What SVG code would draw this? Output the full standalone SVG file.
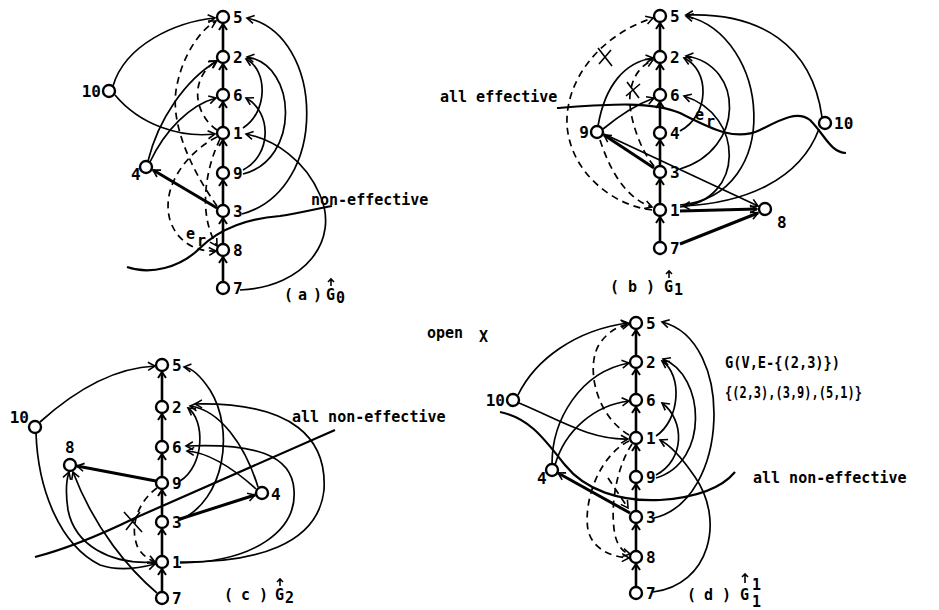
<svg xmlns="http://www.w3.org/2000/svg" width="939" height="610" viewBox="0 0 939 610">
<defs>
<marker id="ar" viewBox="-9 -6 11 12" refX="0" refY="0" markerWidth="11" markerHeight="12" markerUnits="userSpaceOnUse" orient="auto"><path d="M-7,-4 L0,0 L-7,4" fill="none" stroke="#000" stroke-width="1.6"/></marker>
<marker id="sp" viewBox="-9 -6 11 12" refX="0" refY="0" markerWidth="11" markerHeight="12" markerUnits="userSpaceOnUse" orient="auto"><path d="M-6,-4 L0,0 L-6,4" fill="none" stroke="#000" stroke-width="2"/></marker>
</defs>
<style>
.n{fill:#fff;stroke:#000;stroke-width:2.4}
.t{font-family:"DejaVu Sans Mono","Liberation Mono",monospace;font-weight:bold;font-size:16px;fill:#000}
.s{font-family:"DejaVu Sans Mono","Liberation Mono",monospace;font-weight:bold;font-size:15px;fill:#000}
.e{fill:none;stroke:#000;stroke-width:1.7;marker-end:url(#ar)}
.k{fill:none;stroke:#000;stroke-width:3;marker-end:url(#ar)}
.v{fill:none;stroke:#000;stroke-width:2.6;marker-end:url(#sp)}
.d{fill:none;stroke:#000;stroke-width:1.7;stroke-dasharray:7 5;marker-end:url(#ar)}
.c{fill:none;stroke:#000;stroke-width:2.2}
.x{fill:none;stroke:#000;stroke-width:1.6}
</style>
<rect width="939" height="610" fill="#fff"/>
<g id="connectors">
<!-- panel a -->
<path class="v" d="M223,282 L223,257"/>
<path class="v" d="M223,244 L223,218"/>
<path class="v" d="M223,205 L223,180"/>
<path class="v" d="M223,167 L223,140"/>
<path class="v" d="M223,127 L223,102"/>
<path class="v" d="M223,89 L223,64"/>
<path class="v" d="M223,51 L223,24"/>
<path class="e" d="M113,86 C125,45 175,22 215,18"/>
<path class="e" d="M115,95 C140,125 180,138 215,134"/>
<path class="e" d="M148,161 C158,120 185,80 217,61"/>
<path class="e" d="M150,162 C165,130 190,105 216,98"/>
<path class="k" d="M217,208 L153,170"/>
<path class="e" d="M243,128 C268,112 268,70 246,59"/>
<path class="e" d="M243,170 C272,155 272,112 246,98"/>
<path class="e" d="M243,174 C300,160 298,65 247,57"/>
<path class="e" d="M242,214 C330,190 325,35 247,18"/>
<path class="e" d="M240,290 C305,287 340,240 320,195 C305,160 275,140 246,134"/>
<path class="d" d="M217,206 C195,175 168,125 177,85 C183,55 200,30 216,21"/>
<path class="d" d="M217,130 C195,115 188,80 216,61"/>
<path class="d" d="M217,137 C190,150 160,185 170,220 C178,245 200,252 216,251"/>
<path class="d" d="M220,139 C205,170 198,215 217,246"/>
<path class="c" d="M127,267 C150,275 180,268 200,248 C220,228 250,218 280,216 C300,213 320,208 332,206"/>
<!-- panel b -->
<path class="v" d="M660,242 L660,217"/>
<path class="v" d="M660,204 L660,179"/>
<path class="v" d="M660,166 L660,140"/>
<path class="v" d="M660,127 L660,102"/>
<path class="v" d="M660,89 L660,64"/>
<path class="v" d="M660,51 L660,23"/>
<path class="e" d="M822,117 C812,45 760,12 686,15"/>
<path class="e" d="M819,129 C800,180 745,203 683,206"/>
<path class="e" d="M598,126 C605,85 625,62 653,58"/>
<path class="e" d="M603,129 C620,115 635,105 654,98"/>
<path class="k" d="M654,168 L604,135"/>
<path class="e" d="M604,134 L758,206"/>
<path class="k" d="M680,211 L757,209"/>
<path class="k" d="M680,244 L758,213"/>
<path class="e" d="M680,131 C710,115 710,70 684,58"/>
<path class="e" d="M680,169 C745,150 745,65 686,56"/>
<path class="e" d="M680,207 C745,200 745,115 684,96"/>
<path class="e" d="M680,205 C785,195 770,35 686,16"/>
<path class="d" d="M652,210 C610,205 570,170 567,125 C565,80 600,35 653,18"/>
<path class="d" d="M600,140 C610,170 625,198 652,207"/>
<path class="d" d="M654,166 C640,150 628,115 630,95 C632,75 642,65 653,60"/>
<path class="x" d="M598,48 L612,66 M599,64 L611,50"/>
<path class="x" d="M627,82 L639,98 M626,96 L640,84"/>
<path class="c" d="M557,108 C600,105 650,100 680,113 C710,128 735,142 760,130 C780,120 797,110 810,120 C825,135 830,152 846,153"/>
<!-- panel c -->
<path class="v" d="M162,592 L162,569"/>
<path class="v" d="M162,556 L162,529"/>
<path class="v" d="M162,516 L162,490"/>
<path class="v" d="M162,477 L162,454"/>
<path class="v" d="M162,441 L162,414"/>
<path class="v" d="M162,401 L162,372"/>
<path class="e" d="M40,422 C70,395 110,368 155,366"/>
<path class="e" d="M36,433 C38,490 60,545 100,565 C120,572 140,568 155,564"/>
<path class="k" d="M156,481 L77,466"/>
<path class="e" d="M155,562 C110,565 75,545 68,510 C65,490 67,478 69,472"/>
<path class="e" d="M157,593 C130,570 95,530 73,472"/>
<path class="d" d="M157,488 C140,500 128,525 138,548 C143,556 150,560 155,562"/>
<path class="x" d="M124,512 L142,532 M126,530 L140,512"/>
<path class="k" d="M180,519 L255,495"/>
<path class="e" d="M180,520 C225,500 235,430 210,390 C200,375 192,368 184,367"/>
<path class="e" d="M258,487 C245,445 220,410 190,406"/>
<path class="e" d="M256,489 C230,465 205,452 187,451"/>
<path class="e" d="M180,481 C205,465 205,420 188,408"/>
<path class="e" d="M180,562 C255,563 318,545 324,490 C327,440 295,402 195,404"/>
<path class="e" d="M180,563 C255,562 297,530 294,490 C292,455 255,443 186,446"/>
<path class="c" d="M35,557 C70,548 100,535 135,518 L335,430"/>
<!-- panel d -->
<path class="v" d="M636,587 L636,564"/>
<path class="v" d="M636,551 L636,524"/>
<path class="v" d="M636,511 L636,484"/>
<path class="v" d="M636,471 L636,445"/>
<path class="v" d="M636,432 L636,407"/>
<path class="v" d="M636,394 L636,369"/>
<path class="v" d="M636,356 L636,330"/>
<path class="e" d="M518,395 C535,360 575,330 628,323"/>
<path class="e" d="M519,403 C560,420 590,440 628,439"/>
<path class="e" d="M552,464 C552,420 580,372 629,363"/>
<path class="e" d="M555,465 C565,430 595,405 629,401"/>
<path class="k" d="M630,513 L558,473"/>
<path class="e" d="M656,436 C680,420 683,375 662,361"/>
<path class="e" d="M656,475 C685,460 685,420 662,403"/>
<path class="e" d="M656,478 C710,462 705,375 663,359"/>
<path class="e" d="M654,518 C730,500 735,340 662,322"/>
<path class="e" d="M653,592 C710,585 725,520 695,477 C680,455 670,445 660,440"/>
<path class="d" d="M629,435 C595,415 585,365 600,343 C608,332 618,326 629,324"/>
<path class="d" d="M629,441 C600,455 583,500 588,530 C592,548 610,557 629,558"/>
<path class="d" d="M632,444 C615,470 610,510 615,535 C618,548 625,553 630,554"/>
<path class="d" d="M608,478 L628,508"/>
<path class="c" d="M500,412 C530,418 545,440 565,465 C585,490 620,502 660,500 C690,498 720,490 735,472"/>
<!-- vector arrows over G -->
<path class="x" d="M331,286 L331,279 M328,282 L331,279 L334,282"/>
<path class="x" d="M669,278 L669,271 M666,274 L669,271 L672,274"/>
<path class="x" d="M280,586 L280,579 M277,582 L280,579 L283,582"/>
<path class="x" d="M745,583 L745,574 M742,577 L745,574 L748,577"/>
</g>
<!-- panel a nodes -->
<g id="a-n5"><circle class="n" cx="223" cy="17" r="6"/><text class="t" x="233" y="23">5</text></g>
<g id="a-n2"><circle class="n" cx="223" cy="57" r="6"/><text class="t" x="233" y="63">2</text></g>
<g id="a-n6"><circle class="n" cx="223" cy="95" r="6"/><text class="t" x="233" y="101">6</text></g>
<g id="a-n1"><circle class="n" cx="223" cy="133" r="6"/><text class="t" x="233" y="139">1</text></g>
<g id="a-n9"><circle class="n" cx="223" cy="173" r="6"/><text class="t" x="233" y="179">9</text></g>
<g id="a-n3"><circle class="n" cx="223" cy="211" r="6"/><text class="t" x="233" y="217">3</text></g>
<g id="a-n8"><circle class="n" cx="223" cy="250" r="6"/><text class="t" x="233" y="256">8</text></g>
<g id="a-n7"><circle class="n" cx="223" cy="288" r="6"/><text class="t" x="233" y="294">7</text></g>
<g id="a-n10"><circle class="n" cx="109" cy="91" r="6"/><text class="t" x="101" y="97" text-anchor="end">10</text></g>
<g id="a-n4"><circle class="n" cx="146" cy="167" r="6"/><text class="t" x="131" y="180">4</text></g>
<g id="a-text">
<text class="s" x="186" y="239">e</text><text class="s" x="197" y="246" font-size="11">r</text>
<text class="s" x="311" y="205">non-effective</text>
<text class="s" x="284 298 313" y="300">(a)</text>
<text class="s" x="326" y="300">G</text><text class="s" x="336" y="303" font-size="10">0</text>
</g>
<!-- panel b nodes -->
<g id="b-n5"><circle class="n" cx="660" cy="16" r="6"/><text class="t" x="670" y="22">5</text></g>
<g id="b-n2"><circle class="n" cx="660" cy="57" r="6"/><text class="t" x="670" y="63">2</text></g>
<g id="b-n6"><circle class="n" cx="660" cy="95" r="6"/><text class="t" x="670" y="101">6</text></g>
<g id="b-n4"><circle class="n" cx="660" cy="133" r="6"/><text class="t" x="670" y="139">4</text></g>
<g id="b-n3"><circle class="n" cx="660" cy="172" r="6"/><text class="t" x="670" y="178">3</text></g>
<g id="b-n1"><circle class="n" cx="660" cy="210" r="6"/><text class="t" x="670" y="216">1</text></g>
<g id="b-n7"><circle class="n" cx="660" cy="248" r="6"/><text class="t" x="670" y="254">7</text></g>
<g id="b-n9"><circle class="n" cx="597" cy="132" r="6"/><text class="t" x="589" y="138" text-anchor="end">9</text></g>
<g id="b-n10"><circle class="n" cx="825" cy="123" r="6"/><text class="t" x="834" y="129">10</text></g>
<g id="b-n8"><circle class="n" cx="765" cy="209" r="6"/><text class="t" x="777" y="228">8</text></g>
<g id="b-text">
<text class="s" x="695" y="120">e</text><text class="s" x="706" y="127" font-size="11">r</text>
<text class="s" x="440" y="102">all effective</text>
<text class="s" x="610 628 646" y="292">(b)</text>
<text class="s" x="664" y="292">G</text><text class="s" x="674" y="295" font-size="10">1</text>
</g>
<!-- panel c nodes -->
<g id="c-n5"><circle class="n" cx="162" cy="365" r="6"/><text class="t" x="172" y="371">5</text></g>
<g id="c-n2"><circle class="n" cx="162" cy="407" r="6"/><text class="t" x="172" y="413">2</text></g>
<g id="c-n6"><circle class="n" cx="162" cy="447" r="6"/><text class="t" x="172" y="453">6</text></g>
<g id="c-n9"><circle class="n" cx="162" cy="483" r="6"/><text class="t" x="172" y="489">9</text></g>
<g id="c-n3"><circle class="n" cx="162" cy="522" r="6"/><text class="t" x="172" y="528">3</text></g>
<g id="c-n1"><circle class="n" cx="162" cy="562" r="6"/><text class="t" x="172" y="568">1</text></g>
<g id="c-n7"><circle class="n" cx="162" cy="598" r="6"/><text class="t" x="172" y="604">7</text></g>
<g id="c-n10"><circle class="n" cx="35" cy="427" r="6"/><text class="t" x="29" y="423" text-anchor="end">10</text></g>
<g id="c-n8"><circle class="n" cx="70" cy="465" r="6"/><text class="t" x="65" y="453">8</text></g>
<g id="c-n4"><circle class="n" cx="262" cy="493" r="6"/><text class="t" x="271" y="500">4</text></g>
<g id="c-text">
<text class="s" x="292" y="422">all non-effective</text>
<text class="s" x="224 241 259" y="600">(c)</text>
<text class="s" x="275" y="600">G</text><text class="s" x="285" y="603" font-size="10">2</text>
</g>
<!-- panel d nodes -->
<g id="d-n5"><circle class="n" cx="636" cy="323" r="6"/><text class="t" x="646" y="329">5</text></g>
<g id="d-n2"><circle class="n" cx="636" cy="362" r="6"/><text class="t" x="646" y="368">2</text></g>
<g id="d-n6"><circle class="n" cx="636" cy="400" r="6"/><text class="t" x="646" y="406">6</text></g>
<g id="d-n1"><circle class="n" cx="636" cy="438" r="6"/><text class="t" x="646" y="444">1</text></g>
<g id="d-n9"><circle class="n" cx="636" cy="477" r="6"/><text class="t" x="646" y="483">9</text></g>
<g id="d-n3"><circle class="n" cx="636" cy="517" r="6"/><text class="t" x="646" y="523">3</text></g>
<g id="d-n8"><circle class="n" cx="636" cy="557" r="6"/><text class="t" x="646" y="563">8</text></g>
<g id="d-n7"><circle class="n" cx="636" cy="593" r="6"/><text class="t" x="646" y="599">7</text></g>
<g id="d-n10"><circle class="n" cx="513" cy="400" r="6"/><text class="t" x="505" y="406" text-anchor="end">10</text></g>
<g id="d-n4"><circle class="n" cx="552" cy="470" r="6"/><text class="t" x="537" y="484">4</text></g>
<g id="d-text">
<text class="s" x="427" y="338">open</text>
<text class="s" x="479" y="342" font-size="22">X</text>
<text class="s" x="725" y="368" font-size="14" textLength="115" lengthAdjust="spacingAndGlyphs">G(V,E-{(2,3)})</text>
<text class="s" x="725" y="398" font-size="14" textLength="137" lengthAdjust="spacingAndGlyphs">{(2,3),(3,9),(5,1)}</text>
<text class="s" x="753" y="483">all non-effective</text>
<text class="s" x="687 704 722" y="600">(d)</text>
<text class="s" x="740" y="600">G</text>
<text class="s" x="752" y="590" font-size="8">1</text>
<text class="s" x="752" y="607" font-size="8">1</text>
</g>
</svg>
